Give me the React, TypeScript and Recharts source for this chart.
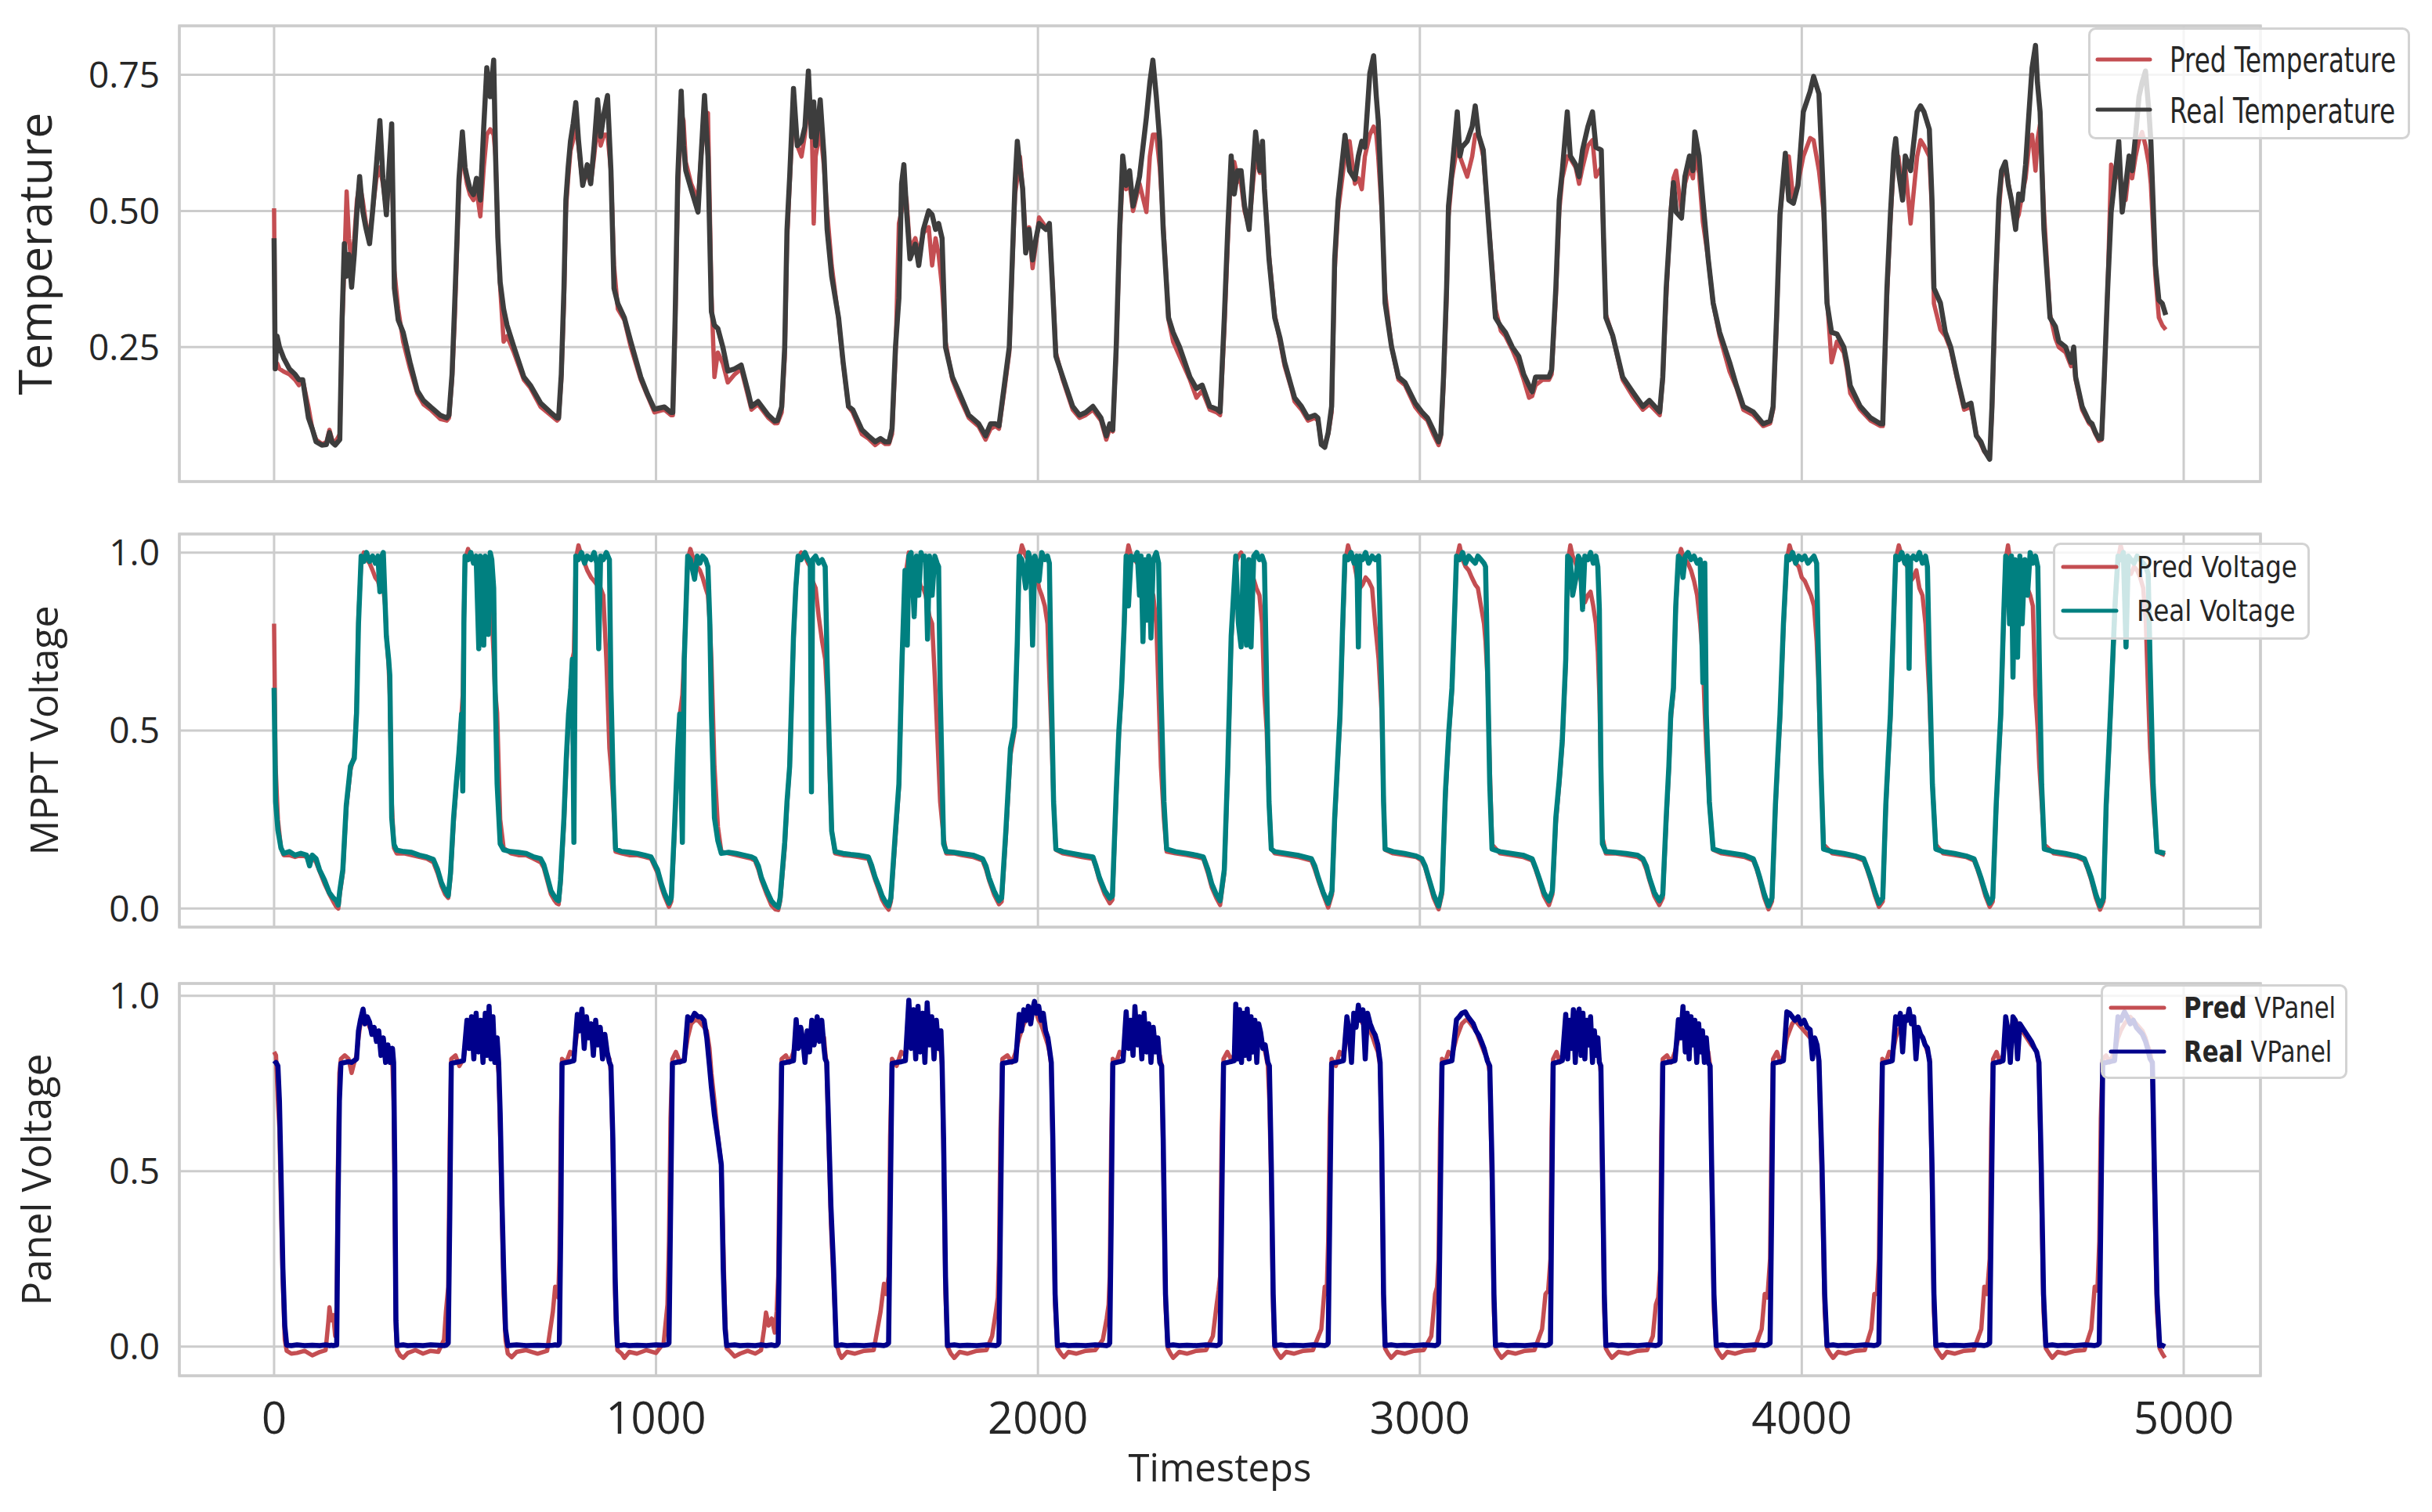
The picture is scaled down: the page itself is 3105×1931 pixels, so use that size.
import React from "react";
import { LineChart, Line, XAxis, YAxis, CartesianGrid, ReferenceArea, Legend } from "recharts";

// ---------- axes / ticks ----------
const xTicks = [0, 1000, 2000, 3000, 4000, 5000];
const xTickLabels = ["0", "1000", "2000", "3000", "4000", "5000"];
const tempTicks = [0.25, 0.5, 0.75];
const tempTickLabels = ["0.25", "0.50", "0.75"];
const voltTicks = [0, 0.5, 1];
const voltTickLabels = ["0.0", "0.5", "1.0"];

// ---------- Temperature ----------
const tempTime = [
  0, 3, 8, 14, 25, 40, 55, 65, 75, 90, 100, 110, 125, 137, 145, 152, 160, 172,
  178, 184, 190, 196, 203, 210, 217, 224, 232, 240, 250, 258, 268, 277, 285, 294, 301, 308, 315, 325, 338, 356, 375, 391, 410, 435, 452,
  458, 466, 473, 479, 484, 493, 500, 505, 513, 522, 530, 540, 549, 557, 566, 575, 580, 586, 592, 601, 610, 628, 654, 671, 698, 724, 741,
  745, 752, 759, 764, 770, 776, 783, 790, 797, 808, 820, 829, 838, 847, 855, 864, 873, 882, 890, 900, 917, 934, 960, 978, 996, 1022, 1039,
  1044, 1050, 1057, 1066, 1072, 1078, 1092, 1110, 1118, 1127, 1136, 1145, 1153, 1162, 1175, 1188, 1206, 1223, 1241, 1250, 1267, 1294, 1311,
  1318, 1329, 1337, 1343, 1350, 1360, 1370, 1381, 1390, 1399, 1407, 1413, 1418, 1430, 1440, 1448, 1460, 1478, 1490, 1504, 1515, 1539, 1556, 1574, 1588, 1600,
  1610, 1618, 1627, 1636, 1643, 1649, 1656, 1665, 1679, 1688, 1700, 1714, 1723, 1732, 1740, 1749, 1758, 1776, 1793, 1819, 1845, 1863, 1876, 1889,
  1898, 1912, 1925, 1933, 1940, 1946, 1953, 1960, 1968, 1977, 1986, 1995, 2003, 2021, 2030, 2039, 2047, 2065, 2091, 2109, 2125, 2144, 2165, 2179, 2188,
  2196, 2205, 2214, 2222, 2231, 2240, 2249, 2266, 2284, 2293, 2301, 2310, 2319, 2328, 2342, 2354, 2371, 2398, 2415, 2430, 2450, 2468,
  2477, 2488, 2497, 2506, 2514, 2523, 2532, 2541, 2553, 2563, 2570, 2581, 2588, 2593, 2605, 2620, 2634, 2646, 2663, 2672, 2690, 2707, 2725, 2733, 2742, 2751, 2760,
  2769, 2777, 2786, 2804, 2816, 2830, 2839, 2848, 2856, 2869, 2879, 2886, 2891, 2900, 2909, 2926, 2944, 2961, 2988, 3005, 3020, 3035, 3049,
  3055, 3062, 3070, 3075, 3084, 3098, 3105, 3110, 3124, 3137, 3145, 3154, 3166, 3180, 3198, 3212, 3224, 3242, 3259, 3272, 3286, 3294, 3303, 3321, 3338,
  3345, 3356, 3365, 3373, 3386, 3394, 3408, 3417, 3426, 3440, 3452, 3461, 3475, 3481, 3487, 3505, 3531, 3557, 3584, 3601, 3628,
  3636, 3645, 3657, 3664, 3671, 3685, 3694, 3706, 3715, 3720, 3731, 3741, 3755, 3768, 3785, 3811, 3829, 3847, 3873, 3899, 3917,
  3925, 3934, 3943, 3957, 3966, 3978, 3990, 4004, 4022, 4031, 4045, 4057, 4066, 4078, 4092, 4110, 4118, 4127, 4153, 4180, 4206,
  4212, 4223, 4232, 4241, 4246, 4253, 4264, 4271, 4285, 4302, 4311, 4320, 4334, 4341, 4346, 4363, 4376, 4390, 4407, 4425, 4443, 4457, 4469, 4478, 4492,
  4498, 4507, 4516, 4523, 4533, 4541, 4549, 4560, 4568, 4577, 4586, 4595, 4603, 4612, 4617, 4624, 4634, 4650, 4664, 4673, 4691, 4705, 4712, 4717, 4734, 4752, 4760, 4769, 4778,
  4785, 4792, 4801, 4810, 4822, 4830, 4839, 4848, 4857, 4865, 4874, 4883, 4891, 4900, 4909, 4914, 4921, 4926, 4935, 4944, 4953,
];
const tempReal = [
  0.45, 0.21, 0.27, 0.25, 0.23, 0.21, 0.2, 0.19, 0.19, 0.12, 0.1, 0.076, 0.07, 0.071, 0.093, 0.075, 0.07, 0.08,
  0.3, 0.44, 0.38, 0.42, 0.36, 0.42, 0.5, 0.563, 0.5, 0.47, 0.44, 0.5, 0.585, 0.666, 0.56, 0.493, 0.58, 0.66, 0.358, 0.3, 0.277, 0.222, 0.17, 0.152, 0.14, 0.125, 0.12,
  0.125, 0.2, 0.331, 0.45, 0.558, 0.645, 0.58, 0.563, 0.54, 0.53, 0.56, 0.52, 0.655, 0.763, 0.71, 0.777, 0.6, 0.45, 0.369, 0.32, 0.29, 0.25, 0.195, 0.18, 0.147, 0.13, 0.12,
  0.12, 0.2, 0.358, 0.52, 0.58, 0.628, 0.66, 0.699, 0.63, 0.547, 0.585, 0.55, 0.62, 0.704, 0.637, 0.68, 0.712, 0.574, 0.358, 0.33, 0.304, 0.26, 0.195, 0.163, 0.136, 0.14, 0.13,
  0.13, 0.3, 0.563, 0.72, 0.62, 0.574, 0.54, 0.498, 0.6, 0.712, 0.6, 0.315, 0.29, 0.284, 0.25, 0.206, 0.21, 0.217, 0.168, 0.141, 0.15, 0.125, 0.114,
  0.115, 0.14, 0.25, 0.466, 0.563, 0.725, 0.62, 0.628, 0.655, 0.757, 0.636, 0.7, 0.62, 0.704, 0.6, 0.466, 0.38, 0.304, 0.222, 0.141, 0.135, 0.098, 0.087, 0.076, 0.082, 0.076,
  0.076, 0.1, 0.25, 0.34, 0.55, 0.585, 0.5, 0.412, 0.439, 0.4, 0.466, 0.5, 0.493, 0.466, 0.477, 0.45, 0.25, 0.195, 0.168, 0.125, 0.109, 0.087, 0.109, 0.109,
  0.105, 0.18, 0.25, 0.412, 0.55, 0.628, 0.58, 0.541, 0.423, 0.466, 0.41, 0.45, 0.477, 0.466, 0.477, 0.35, 0.233, 0.195, 0.141, 0.125, 0.13, 0.141, 0.12, 0.087, 0.109,
  0.098, 0.25, 0.466, 0.601, 0.547, 0.574, 0.509, 0.563, 0.672, 0.736, 0.777, 0.71, 0.628, 0.466, 0.304, 0.277, 0.25, 0.195, 0.174, 0.18, 0.141, 0.136,
  0.131, 0.304, 0.466, 0.601, 0.531, 0.574, 0.574, 0.509, 0.466, 0.574, 0.645, 0.574, 0.628, 0.541, 0.412, 0.304, 0.266, 0.222, 0.179, 0.157, 0.141, 0.12, 0.125, 0.12, 0.071, 0.066, 0.093,
  0.141, 0.412, 0.52, 0.639, 0.574, 0.558, 0.601, 0.628, 0.617, 0.753, 0.785, 0.71, 0.666, 0.52, 0.331, 0.25, 0.195, 0.185, 0.147, 0.131, 0.12, 0.098, 0.076,
  0.09, 0.195, 0.358, 0.509, 0.574, 0.682, 0.601, 0.617, 0.628, 0.655, 0.693, 0.639, 0.612, 0.477, 0.304, 0.288, 0.277, 0.25, 0.233, 0.2, 0.179, 0.168, 0.195, 0.195, 0.195,
  0.208, 0.358, 0.52, 0.574, 0.682, 0.601, 0.585, 0.563, 0.612, 0.655, 0.682, 0.617, 0.612, 0.45, 0.304, 0.271, 0.195, 0.168, 0.141, 0.152, 0.131,
  0.195, 0.358, 0.493, 0.552, 0.498, 0.487, 0.563, 0.601, 0.574, 0.645, 0.601, 0.52, 0.412, 0.331, 0.277, 0.222, 0.179, 0.141, 0.131, 0.109, 0.114,
  0.141, 0.304, 0.493, 0.606, 0.52, 0.514, 0.547, 0.682, 0.72, 0.747, 0.715, 0.52, 0.331, 0.277, 0.274, 0.25, 0.222, 0.179, 0.141, 0.12, 0.109,
  0.109, 0.358, 0.493, 0.606, 0.633, 0.574, 0.52, 0.601, 0.574, 0.682, 0.693, 0.682, 0.65, 0.52, 0.358, 0.331, 0.277, 0.25, 0.195, 0.141, 0.147, 0.087, 0.076, 0.06, 0.044,
  0.141, 0.358, 0.52, 0.574, 0.59, 0.547, 0.52, 0.466, 0.531, 0.52, 0.585, 0.682, 0.763, 0.804, 0.736, 0.682, 0.466, 0.304, 0.288, 0.26, 0.25, 0.222, 0.25, 0.195, 0.141, 0.114, 0.109, 0.093, 0.082,
  0.082, 0.195, 0.358, 0.498, 0.574, 0.628, 0.498, 0.547, 0.601, 0.574, 0.639, 0.71, 0.736, 0.757, 0.682, 0.628, 0.493, 0.401, 0.336, 0.33, 0.309,
];
const tempPred = [
  0.505, 0.22, 0.22, 0.21, 0.205, 0.2, 0.19, 0.18, 0.19, 0.14, 0.1, 0.08, 0.072, 0.075, 0.098, 0.08, 0.075, 0.09,
  0.28, 0.4, 0.536, 0.45, 0.4, 0.45, 0.52, 0.55, 0.52, 0.48, 0.45, 0.5, 0.56, 0.58, 0.55, 0.5, 0.56, 0.6, 0.39, 0.32, 0.26, 0.21, 0.165, 0.145, 0.135, 0.118, 0.115,
  0.12, 0.19, 0.3, 0.43, 0.54, 0.62, 0.57, 0.55, 0.53, 0.52, 0.54, 0.49, 0.58, 0.64, 0.65, 0.64, 0.6, 0.45, 0.36, 0.26, 0.27, 0.24, 0.19, 0.175, 0.14, 0.125, 0.115,
  0.118, 0.19, 0.33, 0.5, 0.56, 0.61, 0.63, 0.66, 0.62, 0.55, 0.57, 0.55, 0.6, 0.66, 0.62, 0.64, 0.64, 0.574, 0.4, 0.32, 0.3, 0.25, 0.19, 0.16, 0.13, 0.135, 0.125,
  0.125, 0.28, 0.53, 0.68, 0.666, 0.59, 0.55, 0.52, 0.6, 0.66, 0.68, 0.35, 0.195, 0.24, 0.22, 0.185, 0.2, 0.21, 0.16, 0.135, 0.145, 0.12, 0.11,
  0.11, 0.13, 0.23, 0.44, 0.55, 0.69, 0.62, 0.6, 0.64, 0.7, 0.69, 0.477, 0.6, 0.65, 0.58, 0.5, 0.4, 0.3, 0.22, 0.14, 0.13, 0.09, 0.082, 0.07, 0.078, 0.072,
  0.072, 0.09, 0.23, 0.477, 0.5, 0.546, 0.52, 0.43, 0.45, 0.42, 0.46, 0.47, 0.4, 0.45, 0.42, 0.36, 0.26, 0.19, 0.16, 0.12, 0.104, 0.08, 0.1, 0.105,
  0.1, 0.17, 0.24, 0.4, 0.53, 0.56, 0.6, 0.54, 0.45, 0.47, 0.395, 0.44, 0.488, 0.47, 0.47, 0.36, 0.24, 0.19, 0.135, 0.12, 0.125, 0.135, 0.115, 0.08, 0.1,
  0.095, 0.24, 0.45, 0.57, 0.54, 0.55, 0.5, 0.55, 0.498, 0.6, 0.64, 0.64, 0.58, 0.48, 0.3, 0.26, 0.233, 0.19, 0.157, 0.17, 0.135, 0.13,
  0.125, 0.28, 0.44, 0.58, 0.59, 0.56, 0.55, 0.5, 0.47, 0.55, 0.6, 0.57, 0.6, 0.54, 0.42, 0.31, 0.26, 0.215, 0.175, 0.15, 0.135, 0.115, 0.12, 0.115, 0.075, 0.07, 0.09,
  0.13, 0.39, 0.5, 0.6, 0.628, 0.55, 0.56, 0.54, 0.6, 0.64, 0.655, 0.64, 0.6, 0.5, 0.35, 0.25, 0.19, 0.18, 0.14, 0.125, 0.115, 0.09, 0.07,
  0.085, 0.18, 0.34, 0.49, 0.56, 0.62, 0.6, 0.59, 0.563, 0.6, 0.64, 0.64, 0.6, 0.48, 0.32, 0.28, 0.27, 0.245, 0.217, 0.19, 0.157, 0.16, 0.18, 0.19, 0.19,
  0.2, 0.34, 0.5, 0.56, 0.6, 0.596, 0.58, 0.55, 0.58, 0.62, 0.63, 0.563, 0.58, 0.45, 0.31, 0.27, 0.19, 0.16, 0.135, 0.145, 0.125,
  0.19, 0.34, 0.5, 0.56, 0.574, 0.5, 0.55, 0.58, 0.56, 0.6, 0.57, 0.48, 0.412, 0.33, 0.27, 0.205, 0.175, 0.135, 0.125, 0.105, 0.11,
  0.135, 0.29, 0.493, 0.59, 0.6, 0.52, 0.55, 0.6, 0.634, 0.63, 0.574, 0.5, 0.34, 0.222, 0.26, 0.24, 0.21, 0.165, 0.135, 0.115, 0.105,
  0.105, 0.34, 0.48, 0.59, 0.6, 0.6, 0.53, 0.58, 0.477, 0.6, 0.63, 0.62, 0.6, 0.5, 0.33, 0.282, 0.27, 0.245, 0.19, 0.135, 0.14, 0.09, 0.072, 0.058, 0.046,
  0.13, 0.34, 0.5, 0.56, 0.59, 0.55, 0.52, 0.48, 0.493, 0.53, 0.56, 0.62, 0.64, 0.574, 0.63, 0.66, 0.5, 0.31, 0.266, 0.25, 0.24, 0.215, 0.23, 0.19, 0.135, 0.11, 0.105, 0.09, 0.078,
  0.08, 0.19, 0.36, 0.585, 0.56, 0.6, 0.52, 0.52, 0.58, 0.56, 0.6, 0.63, 0.645, 0.62, 0.585, 0.55, 0.45, 0.38, 0.304, 0.29, 0.282,
];

// ---------- MPPT Voltage ----------
const mpptTime = [
  0, 4, 10, 18, 25, 40, 55, 70, 85, 93, 100, 110, 119, 132, 145, 155, 163, 168,
  172, 180, 189, 200, 210, 216, 221, 228, 235, 242, 250, 258, 265, 272, 277, 282, 286, 291, 294, 300, 303, 308, 314, 321, 340, 360, 380, 400, 417, 428, 438, 448, 456,
  462, 470, 477, 484, 491, 494, 497, 500, 508, 515, 522, 529, 536, 540, 545, 549, 553, 558, 561, 566, 570, 575, 578, 584, 592, 601, 620, 640, 660, 680, 698, 706, 715, 725, 733, 740, 745,
  750, 759, 765, 771, 777, 781, 785, 790, 797, 805, 813, 820, 830, 838, 845, 850, 855, 862, 870, 878, 882, 888, 894, 910, 930, 950, 970, 987, 1004, 1014, 1022, 1034,
  1040, 1048, 1057, 1062, 1069, 1074, 1083, 1090, 1101, 1108, 1115, 1122, 1130, 1136, 1141, 1145, 1153, 1162, 1171, 1190, 1210, 1230, 1250, 1259, 1268, 1276, 1290, 1302, 1312, 1320,
  1325, 1337, 1343, 1350, 1360, 1366, 1372, 1380, 1390, 1398, 1404, 1407, 1410, 1418, 1426, 1435, 1443, 1448, 1454, 1460, 1469, 1490, 1510, 1530, 1556, 1565, 1574, 1584, 1592, 1600, 1609,
  1615, 1627, 1636, 1644, 1652, 1658, 1662, 1668, 1676, 1682, 1688, 1694, 1700, 1706, 1711, 1716, 1723, 1730, 1736, 1740, 1744, 1753, 1760, 1780, 1800, 1830, 1855, 1864, 1872, 1885, 1898,
  1905, 1916, 1928, 1939, 1946, 1951, 1958, 1968, 1975, 1981, 1986, 1992, 1998, 2003, 2010, 2018, 2025, 2030, 2035, 2041, 2047, 2065, 2090, 2115, 2144, 2152, 2161, 2175, 2188,
  2195, 2205, 2212, 2219, 2226, 2231, 2237, 2244, 2252, 2260, 2266, 2270, 2275, 2280, 2284, 2290, 2296, 2302, 2310, 2316, 2322, 2330, 2337, 2360, 2390, 2415, 2433, 2445, 2455, 2467, 2477,
  2488, 2497, 2506, 2518, 2525, 2532, 2538, 2546, 2552, 2558, 2565, 2572, 2580, 2587, 2593, 2599, 2605, 2611, 2620, 2650, 2680, 2716, 2725, 2734, 2747, 2760,
  2770, 2777, 2784, 2791, 2798, 2804, 2812, 2820, 2828, 2835, 2839, 2843, 2850, 2858, 2866, 2875, 2883, 2892, 2900, 2905, 2909, 2930, 2960, 2990, 3005, 3014, 3023, 3036, 3049,
  3058, 3067, 3076, 3084, 3090, 3096, 3104, 3112, 3120, 3128, 3136, 3145, 3152, 3160, 3168, 3172, 3177, 3183, 3189, 3210, 3240, 3270, 3294, 3303, 3312, 3325, 3338,
  3347, 3356, 3365, 3373, 3382, 3387, 3394, 3400, 3408, 3415, 3420, 3426, 3432, 3440, 3447, 3454, 3461, 3466, 3470, 3474, 3478, 3487, 3510, 3540, 3570, 3584, 3593, 3601, 3614, 3627,
  3636, 3645, 3652, 3657, 3664, 3670, 3677, 3684, 3689, 3695, 3702, 3710, 3718, 3726, 3734, 3741, 3746, 3750, 3758, 3768, 3790, 3820, 3850, 3873, 3882, 3890, 3902, 3913,
  3922, 3931, 3937, 3943, 3952, 3961, 3968, 3976, 3984, 3992, 4000, 4008, 4016, 4024, 4032, 4039, 4043, 4050, 4057, 4080, 4110, 4140, 4162, 4171, 4180, 4192, 4202,
  4212, 4220, 4226, 4232, 4240, 4246, 4254, 4262, 4270, 4277, 4281, 4285, 4292, 4300, 4308, 4316, 4324, 4329, 4334, 4342, 4351, 4370, 4400, 4430, 4451, 4460, 4469, 4481, 4492,
  4500, 4509, 4515, 4521, 4528, 4534, 4540, 4544, 4549, 4553, 4558, 4565, 4571, 4577, 4584, 4591, 4598, 4605, 4612, 4618, 4622, 4628, 4635, 4660, 4690, 4720, 4740, 4749, 4758, 4770, 4781,
  4790, 4797, 4804, 4811, 4820, 4828, 4835, 4842, 4849, 4855, 4862, 4870, 4878, 4886, 4894, 4901, 4907, 4912, 4920, 4930, 4940, 4951,
];
const mpptReal = [
  0.62, 0.3, 0.22, 0.17, 0.155, 0.16, 0.15, 0.155, 0.15, 0.12, 0.15, 0.14, 0.109, 0.08, 0.044, 0.03, 0.022, 0.01,
  0.05, 0.109, 0.29, 0.4, 0.422, 0.55, 0.8, 0.99, 0.975, 1.0, 0.975, 0.99, 0.97, 0.99, 0.89, 0.99, 1.0, 0.85, 0.765, 0.7, 0.655, 0.255, 0.18, 0.164, 0.16, 0.158, 0.15, 0.145, 0.138, 0.11, 0.073, 0.05, 0.036,
  0.1, 0.255, 0.35, 0.437, 0.546, 0.33, 0.8, 0.99, 0.98, 1.0, 0.97, 0.99, 0.73, 0.99, 0.97, 0.74, 0.99, 0.98, 0.77, 1.0, 0.98, 0.9, 0.655, 0.35, 0.182, 0.165, 0.16, 0.158, 0.155, 0.145, 0.14, 0.124, 0.09, 0.05, 0.036, 0.025, 0.022,
  0.08, 0.255, 0.42, 0.546, 0.62, 0.7, 0.186, 0.99, 0.98, 1.0, 0.97, 0.99, 0.98, 1.0, 0.97, 0.73, 0.99, 0.98, 1.0, 0.98, 0.619, 0.35, 0.167, 0.16, 0.158, 0.155, 0.15, 0.145, 0.109, 0.07, 0.044, 0.015,
  0.03, 0.218, 0.45, 0.546, 0.186, 0.7, 0.99, 0.98, 0.925, 0.99, 0.97, 0.99, 0.98, 0.96, 0.8, 0.546, 0.255, 0.19, 0.155, 0.158, 0.155, 0.15, 0.145, 0.14, 0.12, 0.087, 0.05, 0.022, 0.01, 0.004,
  0.03, 0.186, 0.3, 0.4, 0.765, 0.9, 0.99, 0.98, 1.0, 0.98, 0.97, 0.328, 0.98, 0.99, 0.97, 0.98, 0.96, 0.692, 0.45, 0.218, 0.16, 0.155, 0.152, 0.15, 0.145, 0.12, 0.087, 0.06, 0.036, 0.02, 0.007,
  0.03, 0.218, 0.35, 0.692, 0.95, 0.74, 0.99, 1.0, 0.82, 0.99, 0.88, 1.0, 0.98, 0.99, 0.757, 0.99, 0.88, 0.99, 0.97, 0.96, 0.619, 0.182, 0.16, 0.158, 0.155, 0.15, 0.14, 0.12, 0.087, 0.05, 0.022,
  0.03, 0.218, 0.45, 0.51, 0.75, 0.99, 0.98, 0.9, 1.0, 0.98, 0.74, 0.99, 0.97, 0.92, 1.0, 0.98, 0.99, 0.97, 0.619, 0.3, 0.167, 0.16, 0.155, 0.15, 0.145, 0.12, 0.087, 0.05, 0.029,
  0.035, 0.328, 0.5, 0.619, 0.8, 0.99, 0.85, 0.99, 0.98, 1.0, 0.88, 0.99, 0.75, 0.98, 0.81, 0.99, 0.76, 0.98, 1.0, 0.97, 0.619, 0.3, 0.167, 0.16, 0.155, 0.15, 0.145, 0.11, 0.07, 0.04, 0.022,
  0.109, 0.4, 0.765, 0.99, 0.8, 0.735, 0.99, 0.74, 0.98, 0.735, 0.99, 1.0, 0.98, 0.99, 0.97, 0.619, 0.3, 0.167, 0.16, 0.155, 0.15, 0.14, 0.12, 0.087, 0.045, 0.015,
  0.05, 0.255, 0.4, 0.546, 0.8, 0.99, 0.98, 1.0, 0.97, 0.99, 0.735, 0.99, 0.98, 1.0, 0.97, 0.99, 0.98, 0.99, 0.619, 0.3, 0.167, 0.16, 0.155, 0.148, 0.14, 0.12, 0.087, 0.04, 0.007,
  0.05, 0.328, 0.5, 0.619, 0.8, 0.99, 0.98, 1.0, 0.97, 0.99, 0.98, 0.97, 0.99, 0.98, 0.97, 0.96, 0.692, 0.35, 0.167, 0.16, 0.155, 0.15, 0.14, 0.115, 0.087, 0.045, 0.022,
  0.05, 0.255, 0.36, 0.473, 0.7, 0.99, 0.98, 0.88, 0.925, 0.99, 0.98, 0.84, 0.99, 0.98, 1.0, 0.97, 0.99, 0.96, 0.84, 0.4, 0.182, 0.16, 0.158, 0.155, 0.15, 0.14, 0.12, 0.087, 0.045, 0.022,
  0.04, 0.255, 0.4, 0.546, 0.62, 0.85, 0.99, 0.98, 0.93, 0.99, 1.0, 0.98, 0.99, 0.97, 0.98, 0.635, 0.97, 0.546, 0.3, 0.167, 0.16, 0.155, 0.15, 0.14, 0.115, 0.087, 0.04, 0.007,
  0.03, 0.291, 0.42, 0.546, 0.8, 0.99, 0.98, 1.0, 0.97, 0.99, 0.98, 0.99, 0.97, 0.98, 0.99, 0.97, 0.73, 0.4, 0.167, 0.16, 0.155, 0.148, 0.14, 0.115, 0.087, 0.045, 0.015,
  0.03, 0.291, 0.42, 0.546, 0.8, 0.99, 0.98, 1.0, 0.97, 0.99, 0.675, 0.98, 0.99, 0.98, 1.0, 0.97, 0.99, 0.96, 0.692, 0.35, 0.167, 0.16, 0.155, 0.148, 0.14, 0.115, 0.087, 0.045, 0.015,
  0.03, 0.291, 0.42, 0.546, 0.8, 0.99, 0.98, 0.8, 0.99, 0.65, 0.98, 0.706, 0.99, 0.8, 0.98, 0.88, 1.0, 0.97, 0.99, 0.96, 0.692, 0.35, 0.167, 0.16, 0.155, 0.148, 0.14, 0.115, 0.087, 0.04, 0.007,
  0.03, 0.291, 0.45, 0.619, 0.85, 0.99, 0.98, 1.0, 0.735, 0.99, 0.98, 0.97, 0.99, 0.98, 0.97, 0.96, 0.94, 0.692, 0.35, 0.16, 0.158, 0.155,
];
const mpptPred = [
  0.8, 0.4, 0.25, 0.17, 0.15, 0.15, 0.145, 0.15, 0.145, 0.145, 0.145, 0.13, 0.105, 0.07, 0.04, 0.02, 0.005, 0.0,
  0.04, 0.1, 0.28, 0.39, 0.43, 0.57, 0.82, 0.97, 1.0, 0.98, 0.97, 0.95, 0.93, 0.92, 0.9, 0.92, 0.9, 0.85, 0.77, 0.68, 0.6, 0.3, 0.17, 0.155, 0.155, 0.15, 0.145, 0.14, 0.13, 0.1, 0.065, 0.04, 0.03,
  0.09, 0.24, 0.34, 0.43, 0.55, 0.6, 0.82, 0.98, 1.01, 0.99, 0.98, 0.97, 0.96, 0.97, 0.95, 0.93, 0.95, 0.92, 0.9, 0.88, 0.82, 0.71, 0.62, 0.55, 0.25, 0.17, 0.155, 0.15, 0.15, 0.14, 0.13, 0.115, 0.08, 0.04, 0.025, 0.015, 0.012,
  0.07, 0.24, 0.4, 0.53, 0.62, 0.7, 0.72, 0.98, 1.02, 0.99, 0.97, 0.95, 0.93, 0.92, 0.91, 0.91, 0.9, 0.88, 0.7, 0.45, 0.4, 0.3, 0.16, 0.155, 0.15, 0.15, 0.145, 0.14, 0.1, 0.06, 0.035, 0.005,
  0.02, 0.2, 0.43, 0.54, 0.6, 0.72, 0.98, 1.01, 0.97, 0.96, 0.95, 0.93, 0.9, 0.88, 0.8, 0.7, 0.4, 0.23, 0.16, 0.155, 0.15, 0.145, 0.14, 0.135, 0.11, 0.08, 0.04, 0.01, -0.002, -0.004,
  0.02, 0.17, 0.29, 0.4, 0.75, 0.9, 0.98, 1.0, 0.99, 0.97, 0.96, 0.94, 0.92, 0.9, 0.82, 0.75, 0.7, 0.6, 0.4, 0.22, 0.155, 0.15, 0.148, 0.145, 0.14, 0.11, 0.08, 0.05, 0.025, 0.01, -0.003,
  0.02, 0.2, 0.34, 0.68, 0.93, 0.97, 1.0, 0.99, 0.97, 0.95, 0.93, 0.9, 0.9, 0.88, 0.85, 0.82, 0.8, 0.65, 0.5, 0.4, 0.3, 0.2, 0.155, 0.155, 0.15, 0.145, 0.135, 0.11, 0.08, 0.04, 0.012,
  0.02, 0.2, 0.43, 0.5, 0.74, 0.98, 1.02, 0.99, 0.98, 0.97, 0.96, 0.96, 0.93, 0.9, 0.88, 0.85, 0.8, 0.65, 0.5, 0.3, 0.165, 0.155, 0.15, 0.145, 0.14, 0.115, 0.08, 0.04, 0.015,
  0.025, 0.31, 0.49, 0.61, 0.8, 0.98, 1.02, 0.99, 0.98, 0.97, 0.96, 0.97, 0.95, 0.93, 0.92, 0.9, 0.895, 0.88, 0.8, 0.6, 0.4, 0.25, 0.16, 0.155, 0.15, 0.145, 0.14, 0.1, 0.06, 0.03, 0.01,
  0.1, 0.38, 0.75, 0.97, 0.99, 1.0, 0.98, 0.97, 0.95, 0.94, 0.925, 0.9, 0.88, 0.8, 0.6, 0.5, 0.3, 0.17, 0.155, 0.15, 0.145, 0.135, 0.11, 0.08, 0.04, 0.003,
  0.04, 0.24, 0.39, 0.53, 0.78, 0.97, 1.02, 0.99, 0.97, 0.93, 0.9, 0.9, 0.91, 0.93, 0.92, 0.9, 0.8, 0.7, 0.55, 0.3, 0.165, 0.155, 0.15, 0.145, 0.135, 0.115, 0.08, 0.03, -0.002,
  0.04, 0.31, 0.49, 0.61, 0.79, 0.98, 1.02, 0.98, 0.96, 0.95, 0.93, 0.91, 0.9, 0.85, 0.8, 0.75, 0.65, 0.4, 0.18, 0.155, 0.15, 0.145, 0.135, 0.11, 0.08, 0.035, 0.01,
  0.04, 0.24, 0.35, 0.46, 0.69, 0.97, 1.02, 0.99, 0.97, 0.95, 0.93, 0.9, 0.86, 0.88, 0.89, 0.85, 0.8, 0.72, 0.6, 0.4, 0.2, 0.155, 0.155, 0.15, 0.145, 0.135, 0.11, 0.08, 0.035, 0.01,
  0.03, 0.24, 0.39, 0.53, 0.61, 0.84, 0.98, 1.01, 0.99, 0.98, 0.97, 0.95, 0.92, 0.88, 0.8, 0.7, 0.55, 0.45, 0.3, 0.165, 0.155, 0.15, 0.145, 0.135, 0.11, 0.08, 0.03, -0.002,
  0.02, 0.28, 0.41, 0.53, 0.79, 0.98, 1.02, 0.99, 0.97, 0.96, 0.93, 0.92, 0.9, 0.88, 0.85, 0.75, 0.65, 0.4, 0.18, 0.155, 0.15, 0.145, 0.135, 0.11, 0.08, 0.035, 0.005,
  0.02, 0.28, 0.41, 0.53, 0.79, 0.98, 1.02, 0.99, 0.97, 0.96, 0.94, 0.92, 0.93, 0.95, 0.9, 0.88, 0.8, 0.7, 0.6, 0.35, 0.18, 0.155, 0.15, 0.145, 0.135, 0.11, 0.08, 0.035, 0.005,
  0.02, 0.28, 0.41, 0.53, 0.79, 0.98, 1.02, 0.99, 0.98, 0.97, 0.96, 0.95, 0.95, 0.94, 0.93, 0.9, 0.88, 0.85, 0.6, 0.5, 0.4, 0.3, 0.18, 0.155, 0.15, 0.145, 0.135, 0.11, 0.08, 0.03, -0.003,
  0.02, 0.28, 0.44, 0.61, 0.84, 0.98, 1.02, 0.99, 0.97, 0.95, 0.94, 0.96, 0.95, 0.93, 0.9, 0.8, 0.6, 0.45, 0.3, 0.16, 0.155, 0.15,
];

// ---------- Panel Voltage ----------
const vpanTime = [
  0, 5, 10, 14, 18, 23, 28, 33, 45, 60, 80, 100, 120, 135, 142, 145, 150, 155, 160, 164,
  167, 171, 175, 185, 195, 203, 210, 216, 221, 226, 233, 238, 244, 250, 256, 262, 268, 274, 280, 286, 292, 298, 304, 310, 313, 316, 319, 322, 330, 338, 350, 370, 390, 410, 430, 445,
  450, 456, 460, 464, 475, 485, 496, 505, 511, 517, 523, 529, 535, 541, 547, 553, 558, 563, 568, 573, 578, 584, 588, 592, 597, 601, 606, 612, 622, 635, 660, 690, 715, 730, 736, 741,
  744, 747, 751, 754, 765, 775, 785, 794, 800, 806, 812, 818, 824, 830, 836, 842, 848, 854, 860, 866, 872, 878, 882, 887, 893, 896, 899, 910, 917, 930, 950, 975, 1000, 1020, 1030,
  1034, 1038, 1043, 1052, 1063, 1074, 1083, 1092, 1101, 1110, 1118, 1126, 1133, 1140, 1145, 1153, 1162, 1171, 1176, 1181, 1185, 1195, 1206, 1220, 1240, 1260, 1275, 1283, 1288, 1295, 1303, 1311, 1316,
  1320, 1324, 1329, 1340, 1350, 1360, 1367, 1373, 1379, 1385, 1390, 1396, 1402, 1408, 1414, 1422, 1428, 1434, 1440, 1443, 1447, 1451, 1458, 1465, 1472, 1480, 1486, 1500, 1520, 1545, 1570, 1588, 1597, 1603,
  1609, 1613, 1618, 1630, 1642, 1653, 1662, 1668, 1674, 1680, 1686, 1692, 1698, 1704, 1710, 1716, 1722, 1728, 1734, 1740, 1746, 1749, 1753, 1758, 1763, 1772, 1781, 1795, 1815, 1840, 1865, 1880, 1890, 1895,
  1898, 1902, 1907, 1920, 1932, 1942, 1951, 1957, 1963, 1969, 1975, 1981, 1986, 1991, 1996, 2002, 2008, 2014, 2020, 2026, 2030, 2035, 2039, 2045, 2051, 2060, 2068, 2080, 2100, 2125, 2150, 2170, 2180, 2185,
  2188, 2192, 2196, 2205, 2214, 2223, 2231, 2237, 2243, 2249, 2254, 2260, 2266, 2272, 2278, 2284, 2290, 2296, 2302, 2308, 2314, 2319, 2324, 2328, 2334, 2340, 2347, 2354, 2370, 2390, 2415, 2440, 2458, 2468, 2473,
  2477, 2481, 2486, 2496, 2505, 2514, 2518, 2523, 2528, 2533, 2538, 2543, 2548, 2553, 2558, 2563, 2568, 2573, 2578, 2583, 2589, 2595, 2602, 2606, 2611, 2616, 2620, 2628, 2636, 2650, 2670, 2695, 2720, 2742, 2751, 2756,
  2760, 2764, 2769, 2780, 2790, 2800, 2809, 2815, 2821, 2827, 2833, 2839, 2845, 2851, 2857, 2863, 2870, 2877, 2883, 2890, 2896, 2900, 2905, 2909, 2917, 2925, 2940, 2960, 2985, 3010, 3030, 3040, 3045,
  3049, 3053, 3058, 3066, 3075, 3084, 3096, 3103, 3110, 3119, 3126, 3133, 3140, 3147, 3154, 3161, 3168, 3177, 3183, 3189, 3194, 3198, 3206, 3214, 3230, 3250, 3275, 3300, 3320, 3329, 3336,
  3342, 3345, 3349, 3358, 3366, 3373, 3382, 3387, 3392, 3397, 3402, 3407, 3412, 3417, 3422, 3427, 3432, 3437, 3442, 3447, 3452, 3457, 3462, 3466, 3470, 3474, 3478, 3483, 3487, 3495, 3503, 3520, 3545, 3570, 3595, 3610, 3618, 3624,
  3629, 3632, 3636, 3647, 3658, 3668, 3677, 3683, 3689, 3695, 3700, 3705, 3710, 3715, 3720, 3725, 3730, 3735, 3740, 3745, 3750, 3755, 3760, 3764, 3770, 3776, 3784, 3792, 3805, 3825, 3850, 3875, 3895, 3903, 3910,
  3917, 3921, 3925, 3935, 3944, 3952, 3961, 3968, 3975, 3982, 3990, 3998, 4006, 4014, 4022, 4028, 4034, 4040, 4045, 4053, 4060, 4066, 4074, 4082, 4095, 4115, 4140, 4165, 4182, 4190, 4197,
  4202, 4206, 4211, 4220, 4229, 4237, 4246, 4252, 4258, 4264, 4270, 4276, 4281, 4287, 4293, 4299, 4305, 4311, 4317, 4323, 4329, 4335, 4341, 4346, 4351, 4360, 4368, 4380, 4400, 4425, 4450, 4470, 4478, 4485,
  4492, 4496, 4501, 4510, 4519, 4527, 4534, 4540, 4546, 4553, 4559, 4565, 4571, 4577, 4583, 4589, 4595, 4601, 4609, 4615, 4621, 4627, 4633, 4639, 4648, 4656, 4670, 4690, 4715, 4740, 4758, 4767, 4774,
  4779, 4783, 4788, 4797, 4806, 4819, 4828, 4835, 4845, 4852, 4860, 4868, 4876, 4884, 4892, 4900, 4905, 4912, 4918, 4923, 4930, 4937, 4944, 4951,
];
const vpanReal = [
  0.805, 0.81, 0.8, 0.7, 0.5, 0.223, 0.06, 0.004, 0.003, 0.005, 0.003, 0.004, 0.003, 0.005, 0.004, 0.003, 0.004, 0.003, 0.004, 0.005,
  0.37, 0.7, 0.807, 0.81, 0.812, 0.81, 0.815, 0.82, 0.9, 0.93, 0.962, 0.92, 0.94, 0.925, 0.89, 0.91, 0.87, 0.9, 0.83, 0.88, 0.81, 0.86, 0.81, 0.85, 0.81, 0.52, 0.075, 0.003, 0.004, 0.005, 0.003, 0.004, 0.003, 0.005, 0.004, 0.003,
  0.004, 0.01, 0.37, 0.807, 0.81, 0.812, 0.815, 0.93, 0.85, 0.94, 0.82, 0.95, 0.84, 0.93, 0.81, 0.95, 0.83, 0.97, 0.82, 0.94, 0.81, 0.88, 0.81, 0.666, 0.4, 0.223, 0.05, 0.003, 0.004, 0.005, 0.003, 0.004, 0.003, 0.004, 0.005, 0.004,
  0.004, 0.01, 0.37, 0.807, 0.81, 0.812, 0.815, 0.947, 0.9, 0.962, 0.85, 0.94, 0.88, 0.92, 0.83, 0.93, 0.86, 0.91, 0.82, 0.89, 0.84, 0.81, 0.8, 0.592, 0.2, 0.075, 0.003, 0.004, 0.005, 0.003, 0.004, 0.003, 0.005, 0.004, 0.006,
  0.01, 0.37, 0.807, 0.81, 0.812, 0.815, 0.94, 0.93, 0.95, 0.94, 0.94, 0.93, 0.88, 0.8, 0.74, 0.66, 0.592, 0.518, 0.223, 0.05, 0.003, 0.004, 0.005, 0.003, 0.004, 0.003, 0.005, 0.004, 0.003, 0.004, 0.005, 0.003, 0.004,
  0.01, 0.37, 0.807, 0.81, 0.812, 0.815, 0.932, 0.85, 0.91, 0.87, 0.81, 0.9, 0.84, 0.93, 0.86, 0.94, 0.87, 0.93, 0.85, 0.82, 0.81, 0.666, 0.4, 0.223, 0.003, 0.004, 0.005, 0.003, 0.004, 0.003, 0.005, 0.004, 0.003, 0.005,
  0.01, 0.37, 0.807, 0.81, 0.812, 0.815, 0.987, 0.85, 0.96, 0.82, 0.97, 0.84, 0.95, 0.81, 0.98, 0.86, 0.94, 0.82, 0.93, 0.85, 0.9, 0.81, 0.592, 0.2, 0.003, 0.004, 0.005, 0.003, 0.004, 0.003, 0.005, 0.004, 0.003, 0.005,
  0.01, 0.37, 0.807, 0.81, 0.812, 0.815, 0.947, 0.9, 0.96, 0.93, 0.97, 0.92, 0.96, 0.984, 0.95, 0.97, 0.93, 0.95, 0.9, 0.88, 0.85, 0.81, 0.592, 0.15, 0.003, 0.004, 0.005, 0.003, 0.004, 0.003, 0.005, 0.004, 0.003, 0.005,
  0.01, 0.37, 0.807, 0.81, 0.812, 0.815, 0.954, 0.85, 0.93, 0.83, 0.969, 0.86, 0.94, 0.82, 0.95, 0.84, 0.92, 0.81, 0.91, 0.84, 0.88, 0.81, 0.8, 0.592, 0.15, 0.003, 0.004, 0.005, 0.003, 0.004, 0.003, 0.005, 0.004, 0.003, 0.005,
  0.01, 0.37, 0.807, 0.81, 0.812, 0.815, 0.976, 0.82, 0.96, 0.81, 0.95, 0.83, 0.962, 0.82, 0.94, 0.84, 0.93, 0.81, 0.92, 0.896, 0.85, 0.86, 0.81, 0.8, 0.518, 0.15, 0.003, 0.004, 0.005, 0.003, 0.004, 0.003, 0.005, 0.004, 0.003, 0.005,
  0.01, 0.37, 0.807, 0.81, 0.812, 0.815, 0.94, 0.9, 0.81, 0.95, 0.91, 0.973, 0.93, 0.96, 0.82, 0.95, 0.92, 0.9, 0.888, 0.86, 0.81, 0.592, 0.15, 0.003, 0.004, 0.005, 0.003, 0.004, 0.003, 0.005, 0.004, 0.003, 0.005,
  0.01, 0.37, 0.807, 0.81, 0.812, 0.815, 0.932, 0.94, 0.95, 0.954, 0.94, 0.93, 0.92, 0.9, 0.888, 0.87, 0.85, 0.814, 0.8, 0.518, 0.15, 0.003, 0.004, 0.005, 0.003, 0.004, 0.003, 0.005, 0.004, 0.003, 0.005,
  0.01, 0.37, 0.807, 0.81, 0.812, 0.815, 0.947, 0.82, 0.93, 0.85, 0.96, 0.81, 0.94, 0.962, 0.83, 0.95, 0.82, 0.93, 0.86, 0.94, 0.81, 0.9, 0.83, 0.88, 0.81, 0.8, 0.518, 0.15, 0.003, 0.004, 0.005, 0.003, 0.004, 0.003, 0.005, 0.004, 0.003, 0.005,
  0.01, 0.37, 0.807, 0.81, 0.812, 0.815, 0.932, 0.88, 0.969, 0.84, 0.95, 0.82, 0.94, 0.86, 0.93, 0.81, 0.92, 0.84, 0.9, 0.81, 0.88, 0.81, 0.8, 0.518, 0.15, 0.003, 0.004, 0.005, 0.003, 0.004, 0.003, 0.005, 0.004, 0.003, 0.005,
  0.01, 0.37, 0.807, 0.81, 0.812, 0.815, 0.954, 0.95, 0.94, 0.93, 0.94, 0.92, 0.93, 0.91, 0.903, 0.82, 0.88, 0.86, 0.814, 0.518, 0.15, 0.003, 0.004, 0.005, 0.003, 0.004, 0.003, 0.005, 0.004, 0.003, 0.005,
  0.01, 0.37, 0.807, 0.81, 0.812, 0.815, 0.94, 0.92, 0.95, 0.84, 0.94, 0.93, 0.962, 0.92, 0.94, 0.82, 0.91, 0.89, 0.88, 0.86, 0.851, 0.81, 0.518, 0.15, 0.003, 0.004, 0.005, 0.003, 0.004, 0.003, 0.005, 0.004, 0.003, 0.005,
  0.01, 0.37, 0.807, 0.81, 0.812, 0.815, 0.94, 0.9, 0.81, 0.94, 0.93, 0.82, 0.92, 0.91, 0.9, 0.89, 0.88, 0.87, 0.851, 0.84, 0.81, 0.518, 0.15, 0.003, 0.004, 0.005, 0.003, 0.004, 0.003, 0.005, 0.004, 0.003, 0.005,
  0.01, 0.37, 0.807, 0.81, 0.812, 0.815, 0.94, 0.93, 0.954, 0.94, 0.92, 0.93, 0.91, 0.9, 0.89, 0.87, 0.851, 0.82, 0.81, 0.518, 0.15, 0.003, 0.004, 0.0,
];
const vpanPred = [
  0.84, 0.83, 0.7, 0.62, 0.4, 0.18, 0.02, -0.012, -0.02, -0.018, -0.012, -0.025, -0.015, -0.01, 0.07, 0.112, 0.075, 0.09, 0.03, 0.12,
  0.5, 0.78, 0.82, 0.83, 0.82, 0.78, 0.81, 0.83, 0.88, 0.92, 0.93, 0.92, 0.93, 0.91, 0.9, 0.89, 0.88, 0.87, 0.86, 0.85, 0.84, 0.83, 0.82, 0.8, 0.7, 0.4, 0.05, -0.01, -0.025, -0.032, -0.018, -0.01, -0.02, -0.012, -0.015, 0.02,
  0.1, 0.17, 0.6, 0.82, 0.83, 0.8, 0.82, 0.88, 0.9, 0.92, 0.9, 0.93, 0.92, 0.91, 0.9, 0.92, 0.9, 0.93, 0.91, 0.88, 0.85, 0.82, 0.78, 0.6, 0.35, 0.15, 0.02, -0.02, -0.03, -0.015, -0.01, -0.02, -0.012, 0.1, 0.171, 0.16,
  0.14, 0.25, 0.65, 0.82, 0.81, 0.84, 0.83, 0.9, 0.92, 0.94, 0.93, 0.92, 0.91, 0.92, 0.9, 0.89, 0.9, 0.88, 0.86, 0.85, 0.83, 0.82, 0.78, 0.55, 0.15, 0.04, -0.01, -0.02, -0.032, -0.015, -0.02, -0.01, -0.018, 0.01, 0.12,
  0.3, 0.65, 0.82, 0.84, 0.81, 0.82, 0.88, 0.92, 0.93, 0.93, 0.92, 0.91, 0.9, 0.85, 0.78, 0.7, 0.6, 0.52, 0.3, 0.08, -0.005, -0.015, -0.028, -0.02, -0.012, -0.02, -0.01, 0.05, 0.097, 0.06, 0.08, 0.04, 0.1,
  0.2, 0.6, 0.82, 0.83, 0.81, 0.84, 0.88, 0.89, 0.9, 0.88, 0.86, 0.87, 0.88, 0.9, 0.91, 0.92, 0.91, 0.9, 0.88, 0.84, 0.8, 0.62, 0.35, 0.18, 0.01, -0.02, -0.032, -0.015, -0.02, -0.012, -0.01, 0.1, 0.179, 0.15,
  0.2, 0.6, 0.82, 0.8, 0.84, 0.83, 0.88, 0.9, 0.92, 0.91, 0.93, 0.92, 0.92, 0.91, 0.93, 0.92, 0.9, 0.89, 0.88, 0.86, 0.84, 0.8, 0.55, 0.15, 0.0, -0.02, -0.032, -0.015, -0.02, -0.012, -0.01, 0.03, 0.1, 0.14,
  0.25, 0.62, 0.82, 0.83, 0.81, 0.84, 0.88, 0.9, 0.92, 0.93, 0.94, 0.95, 0.96, 0.96, 0.95, 0.93, 0.92, 0.9, 0.88, 0.86, 0.84, 0.8, 0.55, 0.12, -0.005, -0.02, -0.03, -0.015, -0.02, -0.012, -0.01, 0.02, 0.08, 0.12,
  0.2, 0.6, 0.82, 0.81, 0.84, 0.83, 0.88, 0.9, 0.91, 0.9, 0.92, 0.91, 0.9, 0.89, 0.9, 0.89, 0.88, 0.87, 0.86, 0.85, 0.84, 0.83, 0.8, 0.55, 0.12, -0.005, -0.02, -0.032, -0.015, -0.02, -0.012, -0.01, 0.03, 0.12, 0.16,
  0.2, 0.6, 0.82, 0.84, 0.82, 0.83, 0.86, 0.88, 0.9, 0.89, 0.92, 0.91, 0.93, 0.92, 0.91, 0.92, 0.9, 0.89, 0.88, 0.87, 0.86, 0.84, 0.8, 0.7, 0.45, 0.1, -0.005, -0.02, -0.032, -0.015, -0.02, -0.012, -0.01, 0.05, 0.171, 0.15,
  0.3, 0.65, 0.82, 0.8, 0.84, 0.83, 0.88, 0.9, 0.91, 0.92, 0.93, 0.94, 0.93, 0.92, 0.91, 0.92, 0.9, 0.88, 0.86, 0.84, 0.8, 0.55, 0.12, -0.005, -0.02, -0.032, -0.015, -0.02, -0.012, -0.01, 0.03, 0.15, 0.17,
  0.25, 0.62, 0.82, 0.81, 0.84, 0.83, 0.88, 0.9, 0.92, 0.93, 0.93, 0.92, 0.91, 0.9, 0.88, 0.86, 0.84, 0.82, 0.78, 0.45, 0.1, -0.005, -0.02, -0.032, -0.015, -0.02, -0.012, -0.01, 0.05, 0.15, 0.16,
  0.25, 0.62, 0.82, 0.84, 0.81, 0.83, 0.88, 0.89, 0.9, 0.89, 0.91, 0.9, 0.92, 0.92, 0.91, 0.9, 0.9, 0.89, 0.88, 0.87, 0.86, 0.85, 0.84, 0.83, 0.82, 0.78, 0.45, 0.1, -0.005, -0.02, -0.032, -0.015, -0.02, -0.012, -0.01, 0.03, 0.12, 0.14,
  0.22, 0.6, 0.82, 0.83, 0.81, 0.84, 0.88, 0.9, 0.92, 0.91, 0.93, 0.92, 0.91, 0.92, 0.9, 0.89, 0.9, 0.88, 0.87, 0.86, 0.85, 0.84, 0.8, 0.5, 0.1, -0.005, -0.02, -0.032, -0.015, -0.02, -0.012, -0.01, 0.05, 0.15, 0.14,
  0.25, 0.62, 0.82, 0.84, 0.81, 0.83, 0.88, 0.9, 0.92, 0.93, 0.92, 0.91, 0.9, 0.89, 0.88, 0.86, 0.85, 0.84, 0.82, 0.45, 0.1, -0.005, -0.02, -0.032, -0.015, -0.02, -0.012, -0.01, 0.05, 0.15, 0.15,
  0.25, 0.62, 0.82, 0.81, 0.84, 0.83, 0.88, 0.9, 0.91, 0.92, 0.93, 0.94, 0.94, 0.93, 0.92, 0.91, 0.9, 0.89, 0.88, 0.86, 0.84, 0.82, 0.45, 0.1, -0.005, -0.02, -0.032, -0.015, -0.02, -0.012, -0.01, 0.05, 0.171, 0.15,
  0.25, 0.62, 0.82, 0.84, 0.81, 0.83, 0.88, 0.9, 0.91, 0.92, 0.93, 0.92, 0.91, 0.9, 0.89, 0.88, 0.87, 0.86, 0.85, 0.84, 0.8, 0.45, 0.1, -0.005, -0.02, -0.032, -0.015, -0.02, -0.012, -0.01, 0.05, 0.171, 0.16,
  0.3, 0.65, 0.82, 0.83, 0.81, 0.84, 0.88, 0.9, 0.92, 0.93, 0.94, 0.93, 0.92, 0.91, 0.9, 0.88, 0.86, 0.84, 0.8, 0.45, 0.1, -0.005, -0.02, -0.032,
];

// ---------- styling ----------
const PRED = "#c44e52";
const GRID = "#cccccc";
const TXT = "#262626";
const FONT = "'Open Sans', 'DejaVu Sans', sans-serif";
const LEG_FONT = "'DejaVu Sans', sans-serif";
const X_DOMAIN: [number, number] = [-248, 5201];
const PLOT_LEFT = 229;
const PLOT_RIGHT_MARGIN = 3105 - 2886;

const rows = (time: number[], real: number[], pred: number[]) => {
  const n = Math.min(time.length, real.length, pred.length);
  const out: { t: number; real: number; pred: number }[] = [];
  for (let i = 0; i < n; i++) out.push({ t: time[i], real: real[i], pred: pred[i] });
  return out;
};

const tempRows = rows(tempTime, tempReal, tempPred);
const mpptRows = rows(mpptTime, mpptReal, mpptPred);
const vpanRows = rows(vpanTime, vpanReal, vpanPred);

type LegendSpec = {
  left: number; top: number; w: number; h: number;
  lineX1: number; lineX2: number; rowY: [number, number];
  textX: number; baseY: [number, number]; fontSize: number; sx: [number, number];
  labels: [React.ReactNode, React.ReactNode]; colors: [string, string];
};

const LegendBox = ({ spec }: { spec: LegendSpec }) => (
  <svg width={spec.w} height={spec.h} style={{ display: "block", overflow: "visible" }}>
    <rect x={1.5} y={1.5} width={spec.w - 3} height={spec.h - 3} rx={8} ry={8}
      fill="#ffffff" fillOpacity={0.8} stroke="#d3d3d3" strokeWidth={3} />
    {[0, 1].map((i) => (
      <g key={i}>
        <line x1={spec.lineX1} x2={spec.lineX2} y1={spec.rowY[i]} y2={spec.rowY[i]}
          stroke={spec.colors[i]} strokeWidth={5} strokeLinecap="round" />
        <text x={0} y={0} transform={`translate(${spec.textX}, ${spec.baseY[i]}) scale(${spec.sx[i]}, 1)`}
          fontSize={spec.fontSize} fill={TXT} fontFamily={LEG_FONT}>
          {spec.labels[i]}
        </text>
      </g>
    ))}
  </svg>
);

const yLabel = (text: string, baseX: number, size: number) => (props: any) => {
  const vb = props.viewBox || { x: 0, y: 0, width: 0, height: 0 };
  const cy = vb.y + vb.height / 2;
  return (
    <text x={baseX} y={cy} transform={`rotate(-90, ${baseX}, ${cy})`} textAnchor="middle"
      fontSize={size} fontFamily={FONT} fill={TXT}>
      {text}
    </text>
  );
};

const xLabel = (props: any) => {
  const vb = props.viewBox || { x: 0, y: 0, width: 0, height: 0 };
  return (
    <text x={vb.x + vb.width / 2} y={vb.y + 135} textAnchor="middle" fontSize={49}
      fontFamily={FONT} fill={TXT}>
      Timesteps
    </text>
  );
};

const noTick = () => <g />;

type PanelProps = {
  top: number; height: number; mTop: number; mBottom: number;
  data: { t: number; real: number; pred: number }[];
  domain: [number, number]; yTicks: number[]; yTickLabels: string[];
  realColor: string; realWidth: number; predWidth: number;
  label: (p: any) => React.ReactElement;
  showX: boolean; legend: LegendSpec;
};

const Panel = (p: PanelProps) => (
  <div style={{ position: "absolute", left: 0, top: p.top }}>
    <LineChart width={3105} height={p.height} data={p.data}
      margin={{ top: p.mTop, right: PLOT_RIGHT_MARGIN, bottom: p.mBottom, left: 0 }}>
      <CartesianGrid stroke={GRID} strokeWidth={3} />
      <XAxis dataKey="t" type="number" domain={X_DOMAIN} allowDataOverflow ticks={xTicks}
        interval={0}
        tick={p.showX ? { fontSize: 56, fill: TXT, fontFamily: FONT } : noTick}
        tickFormatter={(v: number) => xTickLabels[xTicks.indexOf(v)] ?? String(v)}
        axisLine={false} tickLine={false} tickSize={0} tickMargin={34}
        height={p.showX ? 120 : 0}
        label={p.showX ? xLabel : undefined} />
      <YAxis type="number" domain={p.domain} allowDataOverflow ticks={p.yTicks} interval={0}
        width={PLOT_LEFT} axisLine={false} tickLine={false} tickSize={0} tickMargin={25}
        tick={{ fontSize: 46, fill: TXT, fontFamily: FONT }}
        tickFormatter={(v: number) => p.yTickLabels[p.yTicks.indexOf(v)] ?? String(v)}
        label={p.label} />
      <Line type="linear" dataKey="pred" stroke={PRED} strokeWidth={p.predWidth} dot={false}
        isAnimationActive={false} strokeLinejoin="round" />
      <Line type="linear" dataKey="real" stroke={p.realColor} strokeWidth={p.realWidth} dot={false}
        isAnimationActive={false} strokeLinejoin="round" />
      <ReferenceArea x1={X_DOMAIN[0]} x2={X_DOMAIN[1]} y1={p.domain[0]} y2={p.domain[1]}
        fill="none" fillOpacity={0} stroke={GRID} strokeWidth={3.5} ifOverflow="visible" />
      <Legend layout="vertical" align="center" verticalAlign="middle"
        wrapperStyle={{ position: "absolute", left: p.legend.left, top: p.legend.top, width: p.legend.w, height: p.legend.h, margin: 0, padding: 0 }}
        content={() => <LegendBox spec={p.legend} />} />
    </LineChart>
  </div>
);

const legend1: LegendSpec = {
  left: 2666, top: 35, w: 411, h: 143, lineX1: 12, lineX2: 79, rowY: [41, 105],
  textX: 104, baseY: [57, 122], fontSize: 44, sx: [0.74, 0.744],
  labels: ["Pred Temperature", "Real Temperature"], colors: [PRED, "#3d3d3d"],
};
const legend2: LegendSpec = {
  left: 2621, top: 43, w: 328, h: 124, lineX1: 13, lineX2: 81, rowY: [31, 87],
  textX: 107, baseY: [44, 100], fontSize: 37, sx: [0.88, 0.88],
  labels: ["Pred Voltage", "Real Voltage"], colors: [PRED, "#008080"],
};
const legend3: LegendSpec = {
  left: 2682, top: 57, w: 315, h: 121, lineX1: 13, lineX2: 81, rowY: [30, 86],
  textX: 106, baseY: [43, 99], fontSize: 37, sx: [0.83, 0.83],
  labels: [
    <><tspan fontWeight="bold">Pred</tspan> VPanel</>,
    <><tspan fontWeight="bold">Real</tspan> VPanel</>,
  ],
  colors: [PRED, "#00008b"],
};

export default function App() {
  return (
    <div style={{ position: "relative", width: 3105, height: 1931, background: "#ffffff", fontFamily: FONT }}>
      <style>{"body{margin:0;background:#fff;}"}</style>
      <Panel top={0} height={650} mTop={33} mBottom={35} data={tempRows}
        domain={[0.003, 0.84]} yTicks={tempTicks} yTickLabels={tempTickLabels}
        realColor="#3d3d3d" realWidth={6.5} predWidth={5.5}
        label={yLabel("Temperature", 66, 59)} showX={false} legend={legend1} />
      <Panel top={650} height={550} mTop={32} mBottom={16} data={mpptRows}
        domain={[-0.052, 1.052]} yTicks={voltTicks} yTickLabels={voltTickLabels}
        realColor="#008080" realWidth={6.5} predWidth={5.5}
        label={yLabel("MPPT Voltage", 74, 50)} showX={false} legend={legend2} />
      <Panel top={1200} height={731} mTop={56} mBottom={54} data={vpanRows}
        domain={[-0.083, 1.035]} yTicks={voltTicks} yTickLabels={voltTickLabels}
        realColor="#00008b" realWidth={6.5} predWidth={5.5}
        label={yLabel("Panel Voltage", 65, 51)} showX={true} legend={legend3} />
    </div>
  );
}
